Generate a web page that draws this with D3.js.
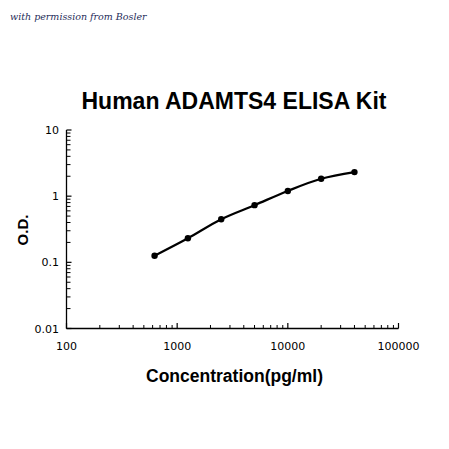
<!DOCTYPE html>
<html><head><meta charset="utf-8">
<script src="https://cdn.jsdelivr.net/npm/d3@7"></script>
<style>body{margin:0;background:#fff}svg{display:block}</style>
</head><body>
<script>
const concentrations = [625, 1250, 2500, 5000, 10000, 20000, 40000];
const odValues = [0.126, 0.231, 0.449, 0.731, 1.2, 1.83, 2.31];
const xTickValues = [100, 1000, 10000, 100000];
const yTickValues = [0.01, 0.1, 1, 10];
const titleText = "Human ADAMTS4 ELISA Kit";
const xTitle = "Concentration(pg/ml)";
const yTitle = "O.D.";
const watermark = "with permission from Bosler";

const W = 449, H = 449;
const svg = d3.select("body").append("svg").attr("width", W).attr("height", H);
svg.append("rect").attr("width", W).attr("height", H).attr("fill", "#fff");

const x = d3.scaleLog().domain([100, 100000]).range([66.5, 398.5]);
const y = d3.scaleLog().domain([0.01, 10]).range([328.5, 130]);

svg.append("text").attr("x", 10).attr("y", 20)
  .attr("font-family", "'DejaVu Serif', serif").attr("font-style", "italic")
  .attr("font-size", 9.5).attr("fill", "#1f2d5a").text(watermark);

svg.append("text").attr("x", 234).attr("y", 109).attr("text-anchor", "middle")
  .attr("font-family", "'Liberation Sans', Arial, sans-serif").attr("font-weight", "bold")
  .attr("font-size", 23).attr("fill", "#000").text(titleText);

function minors(lo, hi) {
  const out = [];
  for (let d = lo; d < hi; d *= 10) for (let k = 2; k <= 9; k++) out.push(d * k);
  return out;
}

// x axis
const gx = svg.append("g");
gx.append("line").attr("x1", x(100)).attr("x2", x(100000)).attr("y1", 328.5).attr("y2", 328.5)
  .attr("stroke", "#000").attr("stroke-width", 1.3);
gx.selectAll("line.maj").data(xTickValues).join("line").attr("class", "maj")
  .attr("x1", d => x(d)).attr("x2", d => x(d)).attr("y1", 328.5).attr("y2", 323)
  .attr("stroke", "#000").attr("stroke-width", 1.2);
gx.selectAll("line.min").data(minors(100, 100000)).join("line").attr("class", "min")
  .attr("x1", d => x(d)).attr("x2", d => x(d)).attr("y1", 328.5).attr("y2", 325)
  .attr("stroke", "#000").attr("stroke-width", 1);
gx.selectAll("text").data(xTickValues).join("text")
  .attr("x", d => x(d)).attr("y", 350).attr("text-anchor", "middle")
  .attr("font-family", "'DejaVu Sans', Verdana, sans-serif").attr("font-size", 11)
  .text(d => d);

// y axis
const gy = svg.append("g");
gy.append("line").attr("x1", 66.5).attr("x2", 66.5).attr("y1", y(0.01)).attr("y2", y(10))
  .attr("stroke", "#000").attr("stroke-width", 1.3);
gy.selectAll("line.maj").data(yTickValues).join("line").attr("class", "maj")
  .attr("x1", 66.5).attr("x2", 71.5).attr("y1", d => y(d)).attr("y2", d => y(d))
  .attr("stroke", "#000").attr("stroke-width", 1.2);
gy.selectAll("line.min").data(minors(0.01, 10)).join("line").attr("class", "min")
  .attr("x1", 66.5).attr("x2", 70.5).attr("y1", d => y(d)).attr("y2", d => y(d))
  .attr("stroke", "#000").attr("stroke-width", 1);
gy.selectAll("text").data(yTickValues).join("text")
  .attr("x", 59).attr("y", d => y(d) + 4).attr("text-anchor", "end")
  .attr("font-family", "'DejaVu Sans', Verdana, sans-serif").attr("font-size", 11)
  .text(d => d);

// axis titles
svg.append("text").attr("x", 234.5).attr("y", 382).attr("text-anchor", "middle")
  .attr("font-family", "'Liberation Sans', Arial, sans-serif").attr("font-weight", "bold")
  .attr("font-size", 17.5).text(xTitle);
svg.append("text").attr("transform", "translate(28,230) rotate(-90)").attr("text-anchor", "middle")
  .attr("font-family", "'Liberation Sans', Arial, sans-serif").attr("font-weight", "bold")
  .attr("font-size", 15).text(yTitle);

// curve
const pts = concentrations.map((c, i) => [c, odValues[i]]);
const line = d3.line().x(d => x(d[0])).y(d => y(d[1])).curve(d3.curveCatmullRom.alpha(0.5));
svg.append("path").datum(pts).attr("d", line).attr("fill", "none")
  .attr("stroke", "#000").attr("stroke-width", 2.2);
svg.selectAll("circle").data(pts).join("circle")
  .attr("cx", d => x(d[0])).attr("cy", d => y(d[1])).attr("r", 3.2).attr("fill", "#000");
</script>
</body></html>
